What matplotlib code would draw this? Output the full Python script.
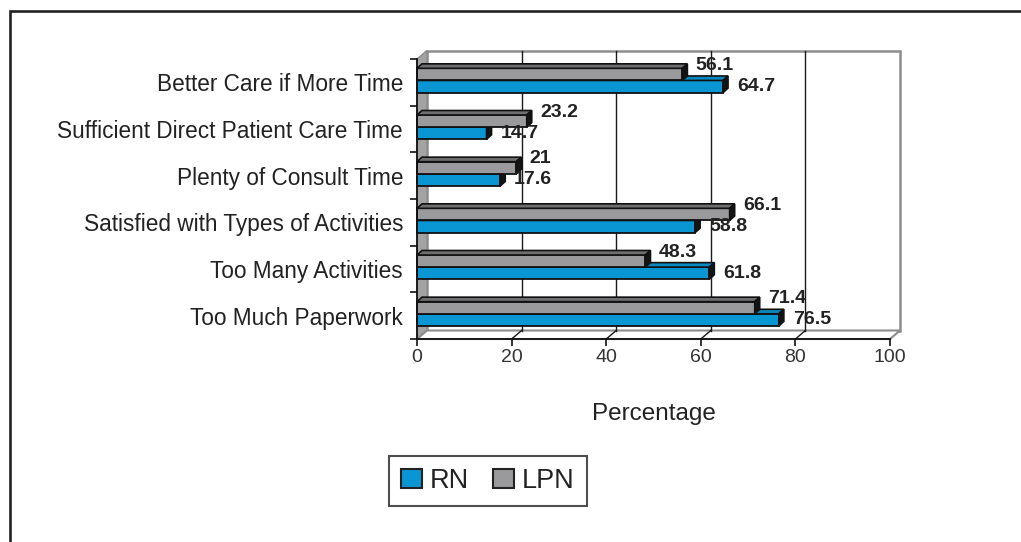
import matplotlib
matplotlib.use("Agg")
import matplotlib.pyplot as plt
from matplotlib.patches import Polygon, Rectangle, Patch

plt.rcParams['font.family'] = ['Liberation Sans', 'DejaVu Sans']

# data
categories = ['Better Care if More Time', 'Sufficient Direct Patient Care Time',
              'Plenty of Consult Time', 'Satisfied with Types of Activities',
              'Too Many Activities', 'Too Much Paperwork']
rn = [64.7, 14.7, 17.6, 58.8, 61.8, 76.5]
lpn = [56.1, 23.2, 21, 66.1, 48.3, 71.4]
rn_labels = ['64.7', '14.7', '17.6', '58.8', '61.8', '76.5']
lpn_labels = ['56.1', '23.2', '21', '66.1', '48.3', '71.4']
xticks = [0, 20, 40, 60, 80, 100]

blue = '#0a96d2'
blue_top = '#0a88c0'
gray = '#9a9a9c'
gray_top = '#6e6e70'
side = '#141414'

fig = plt.figure(figsize=(10.21, 5.42), dpi=100)
W, H = 1021, 542

# axes placed so that the front plane matches the reference
ax = fig.add_axes([417 / W, 1 - 339 / H, 473 / W, 280 / H])
ax.set_xlim(0, 100)
ax.set_ylim(5.5, -0.5)
ax.patch.set_visible(False)

px_x = 473 / 100.0   # pixels per x unit
px_y = 280 / 6.0     # pixels per category
# wall depth and bar depth in data units
Dx, Dy = 10 / px_x, 8.5 / px_y
dx, dy = 5 / px_x, 4.5 / px_y

# back wall, side wall and floor
ax.add_patch(Rectangle((Dx, -0.5 - Dy), 100, 6, facecolor='white',
                       edgecolor='#8c8c8c', lw=1.8, clip_on=False, zorder=0))
ax.add_patch(Polygon([(0, -0.5), (Dx, -0.5 - Dy), (Dx, 5.5 - Dy), (0, 5.5)],
                     closed=True, facecolor='#a3a3a3', edgecolor='#8c8c8c',
                     lw=1, clip_on=False, zorder=0.5))
ax.add_patch(Polygon([(0, 5.5), (100, 5.5), (100 + Dx, 5.5 - Dy), (Dx, 5.5 - Dy)],
                     closed=True, facecolor='white', edgecolor='#8c8c8c',
                     lw=1.5, clip_on=False, zorder=0.5))
for t in xticks[1:-1]:
    ax.plot([t + Dx, t + Dx], [-0.5 - Dy, 5.5 - Dy], color='#1a1a1a', lw=1,
            clip_on=False, zorder=0.6)
    ax.plot([t, t + Dx], [5.5, 5.5 - Dy], color='#1a1a1a', lw=1,
            clip_on=False, zorder=0.6)

h = 0.26
y_gray = [i - 0.17 for i in range(len(categories))]
y_blue = [i + 0.09 for i in range(len(categories))]


def bar3d(y, v, face, top, z):
    y0, y1 = y - h / 2, y + h / 2
    ax.barh(y, v, height=h, color=face, edgecolor='#111111', lw=1.3,
            zorder=z, clip_on=False)
    ax.add_patch(Polygon([(0, y0), (v, y0), (v + dx, y0 - dy), (dx, y0 - dy)],
                         closed=True, facecolor=top, edgecolor='#111111',
                         lw=1.2, zorder=z, clip_on=False))
    ax.add_patch(Polygon([(v, y0), (v, y1), (v + dx, y1 - dy), (v + dx, y0 - dy)],
                         closed=True, facecolor=side, edgecolor='#111111',
                         lw=1.2, zorder=z, clip_on=False))


for i in range(len(categories)):
    z = 2 + i * 2
    bar3d(y_blue[i], rn[i], blue, blue_top, z)
    bar3d(y_gray[i], lpn[i], gray, gray_top, z + 1)
    ax.annotate(lpn_labels[i], (lpn[i], y_gray[i]), xytext=(9.5, 6.5),
                textcoords='offset points', ha='left', va='center',
                fontsize=14, fontweight='bold', color='#222222', zorder=20)
    ax.annotate(rn_labels[i], (rn[i], y_blue[i]), xytext=(10, 0),
                textcoords='offset points', ha='left', va='center',
                fontsize=14, fontweight='bold', color='#222222', zorder=20)

# axes lines and ticks
for s in ['top', 'right']:
    ax.spines[s].set_visible(False)
for s in ['left', 'bottom']:
    ax.spines[s].set_color('#111111')
    ax.spines[s].set_linewidth(1.3)
    ax.spines[s].set_zorder(30)

ax.set_xticks(xticks)
ax.set_xticklabels([str(t) for t in xticks])
ax.tick_params(axis='x', length=5, width=1.2, color='#111111', labelsize=14,
               labelcolor='#333333', pad=2)
ax.set_yticks(range(len(categories)))
ax.set_yticklabels(categories)
ax.set_yticks([i - 0.5 for i in range(len(categories) + 1)], minor=True)
ax.tick_params(axis='y', which='major', length=0, labelsize=16.3,
               labelcolor='#222222', pad=10)
ax.tick_params(axis='y', which='minor', length=5, width=1.2, color='#111111')

ax.set_xlabel('Percentage', fontsize=17.5, color='#222222', labelpad=27)

# legend
handles = [Patch(facecolor=blue, edgecolor='#222222', lw=1.5, label='RN'),
           Patch(facecolor=gray, edgecolor='#222222', lw=1.5, label='LPN')]
leg = fig.legend(handles=handles, ncol=2, loc='center',
                 bbox_to_anchor=(488 / W, 1 - 481 / H), fontsize=19.5,
                 frameon=True, fancybox=False, handlelength=0.75,
                 handleheight=0.75, handletextpad=0.3, columnspacing=0.9,
                 borderpad=0.45)
leg.get_frame().set_edgecolor('#222222')
leg.get_frame().set_linewidth(1.5)
for t in leg.get_texts():
    t.set_color('#222222')

# outer frame of the chart area
fig.add_artist(Rectangle((9.5 / W, -0.05), 1.2, 1.05 - 11 / H,
                         transform=fig.transFigure, fill=False,
                         edgecolor='#222222', lw=1.9))

fig.savefig('out.png', dpi=100)
